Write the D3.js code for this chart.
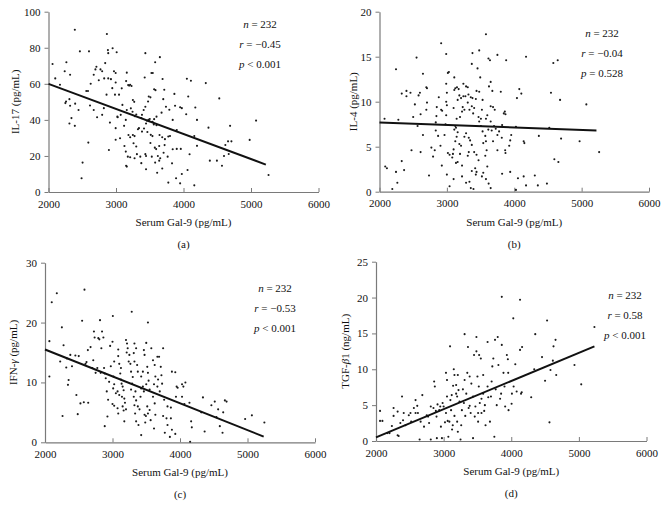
<!DOCTYPE html>
<html><head><meta charset="utf-8">
<script src="https://cdn.jsdelivr.net/npm/d3@7"></script>
<style>body{margin:0;background:#fff}text{font-family:"Liberation Serif","DejaVu Serif",serif;fill:#111}</style>
</head><body><svg id="c" width="667" height="505"></svg>
<script>
// ---- DATA ----
const xTicks = [2000, 3000, 4000, 5000, 6000];
const xLabel = "Serum Gal-9 (pg/mL)";
const panelTags = ["(a)", "(b)", "(c)", "(d)"];
const il17Ticks = [0, 20, 40, 60, 80, 100];
const il4Ticks = [0, 5, 10, 15, 20];
const ifnTicks = [0, 10, 20, 30];
const tgfTicks = [0, 5, 10, 15, 20, 25];
const il17Stats = ["232", "\u22120.45", "< 0.001"];
const il4Stats = ["232", "\u22120.04", "= 0.528"];
const ifnStats = ["232", "\u22120.53", "< 0.001"];
const tgfStats = ["232", "0.58", "< 0.001"];
const il17Fit = [[2000, 60], [5220, 15.2]];
const il4Fit = [[2000, 7.7], [5220, 6.8]];
const ifnFit = [[2000, 15.5], [5240, 0.95]];
const tgfFit = [[2000, 0.5], [5230, 13.2]];
const il17Points = [[2060,71],[2390,90],[2465,78],[2600,78],[2265,72],[2240,67],[2320,65],[2100,63],[2170,59.5],[2560,56],[2585,56],[2625,60],[2670,65],[2710,69.5],[2695,68],[2770,68],[2795,67],[2745,62],[2865,87.6],[2880,78.7],[2885,77],[2950,79.7],[3010,77.5],[2840,71.5],[2825,63],[2885,63],[2925,62.6],[2970,67],[2995,66],[2995,60.7],[2945,57.6],[2860,54],[2985,54],[3045,54],[2250,49.3],[2260,50.2],[2310,51.5],[2320,47.8],[2395,49],[2445,45.5],[2340,41],[2310,38],[2390,36.7],[2615,48],[2670,45.5],[2720,41.5],[2820,46.5],[2795,42.8],[2910,38.5],[2995,35.4],[3020,41.8],[3025,41.5],[2895,23.3],[3060,29.8],[2995,29],[2590,27.4],[2505,16.3],[2490,7.6],[3070,42.8],[3095,48.3],[3145,40],[3120,36.7],[3160,45.5],[3180,59.3],[3195,59],[3210,59.5],[3230,58.8],[3150,61.5],[3160,66.2],[3085,57.5],[3250,51],[3270,50],[3220,46.4],[3245,44.5],[3125,25.5],[3145,22.4],[3175,19.6],[3210,19.3],[3160,14.1],[3150,14.6],[3185,31.6],[3210,30.4],[3250,31.6],[3275,31],[3260,27],[3300,25.2],[3310,21],[3275,18.7],[3360,19.6],[3375,16],[3340,35.4],[3325,34.8],[3375,41],[3385,42.8],[3410,45.5],[3435,47.3],[3475,50.2],[3485,53],[3510,52.5],[3425,63.5],[3435,77],[3525,66],[3545,66],[3565,57],[3585,56.5],[3580,72],[3650,74.8],[3690,62.7],[3715,56.7],[3700,51.5],[3740,47.3],[3675,44],[3600,41.8],[3565,40.4],[3540,39],[3490,39.3],[3445,38],[3415,35.2],[3385,33.5],[3465,33.3],[3515,31.7],[3540,31],[3645,31.6],[3685,30.4],[3725,29.3],[3775,30.8],[3575,24.6],[3595,23.8],[3640,25.5],[3720,26],[3510,27.2],[3435,21],[3445,20],[3530,19.6],[3620,20],[3655,18.7],[3705,21.8],[3765,19.6],[3640,17.4],[3580,16.3],[3445,12.6],[3610,10.7],[3685,13],[3775,5.2],[3480,40],[3500,40.5],[3460,39.5],[3280,42],[3300,43],[3560,37.5],[3600,37],[4050,62.8],[4110,61.7],[4330,60.4],[3865,54.4],[4070,53],[4530,51.9],[3790,45.6],[3875,47.8],[3950,47],[3975,46.5],[4175,46.9],[4040,43.1],[4200,40],[3840,40],[3900,34.4],[4370,35.7],[4690,36.7],[5075,39.6],[4160,31.1],[4200,25.6],[3800,31.1],[3840,23.7],[3900,23.9],[3960,23.9],[4090,20.9],[3830,15.9],[3975,10],[3890,7.6],[3950,4.8],[4060,12.2],[4160,3.7],[4390,17.4],[4495,17.4],[4570,14.6],[4600,20],[4670,21.1],[4660,28.1],[4710,28.1],[4620,26.1],[4980,28.9],[5260,9.4]];
const il4Points = [[2075,8.1],[2110,2.6],[2085,2.8],[2190,0.3],[2245,2.2],[2265,1],[2245,13.6],[2280,8],[2330,3.4],[2365,2.4],[2330,10.9],[2400,11.2],[2400,10.6],[2460,11],[2500,8.3],[2550,14.9],[2475,4.6],[2525,9.7],[2565,7.3],[2610,8.6],[2580,10.7],[2600,11],[2645,13.1],[2610,4.4],[2695,11.6],[2705,11.5],[2705,9.9],[2695,9.1],[2645,6.3],[2735,1.8],[2770,4.9],[2795,3.9],[2820,4.6],[2835,7.7],[2835,6.8],[2845,8.4],[2850,9.4],[2880,10.5],[2915,9.1],[2930,9],[2870,6.2],[2905,5.1],[2925,2.9],[2915,16.5],[2990,15.3],[3015,13.2],[3030,13.3],[2990,12],[3000,11],[2990,10],[3000,9.6],[2990,8.5],[2980,7.5],[2965,6.3],[3015,4.3],[3040,4.1],[3080,3.8],[3000,1.9],[3040,0.6],[3090,4.2],[3100,4.7],[3110,6.9],[3125,7.3],[3100,9.3],[3110,11.3],[3125,11.5],[3150,11.6],[3175,11.4],[3185,10.7],[3160,10.2],[3210,10.4],[3245,10.6],[3235,9.4],[3260,9.1],[3225,8.9],[3195,8.3],[3145,8.1],[3135,7.1],[3160,6.6],[3145,6.1],[3125,5.6],[3185,5.3],[3210,5.1],[3260,6.1],[3285,6.5],[3325,6],[3345,5.7],[3370,5.2],[3325,4.4],[3310,4],[3195,4.2],[3225,2.9],[3160,3.3],[3135,3.2],[3100,1.4],[3225,1.7],[3285,1],[3335,1.1],[3355,0.4],[3395,0.3],[3370,2.3],[3420,2.6],[3440,2.2],[3430,1.9],[3470,3.5],[3405,4.4],[3440,4.1],[3110,12.7],[3245,12],[3285,11.7],[3310,11.6],[3320,10.8],[3275,10.6],[3355,10.5],[3380,10.4],[3310,9.9],[3335,9.1],[3370,9.5],[3390,8.7],[3405,9.3],[3430,10.3],[3370,14.2],[3380,15.4],[3480,15.7],[3455,13.7],[3495,12.7],[3440,11.2],[3480,11.1],[3530,10.2],[3520,9.1],[3470,8.3],[3505,8.1],[3480,7.8],[3505,7.3],[3530,6.7],[3570,6.2],[3540,5.4],[3580,5.6],[3590,4.6],[3570,4],[3600,2.8],[3540,2.1],[3520,1.7],[3580,1.4],[3620,0.9],[3650,0.4],[3617,14.8],[3580,17.5],[3640,14.6],[3625,11.7],[3650,12.2],[3675,11.2],[3650,9.5],[3685,9.4],[3710,9.1],[3600,8.5],[3580,8.1],[3650,7.8],[3700,7.3],[3725,7],[3665,6.8],[3615,6.9],[3750,6.3],[3685,5.6],[3750,4.6],[3815,6],[3775,6.7],[3820,7.4],[3845,8.7],[3860,8.9],[3870,8.6],[3800,11.1],[3750,15.2],[3880,14.6],[3820,2],[3870,4.3],[4175,15],[4580,14.3],[4645,14.6],[4075,11.4],[4105,10.9],[4040,10.4],[4545,11],[4680,10.2],[5070,9.7],[4025,7.2],[4520,7.1],[3955,6.3],[3940,5.7],[3925,5.1],[3865,4.6],[4140,5.6],[4150,5.4],[4365,6.2],[4695,5.9],[4970,5.6],[5260,4.4],[4595,3.6],[4655,3.3],[3940,2.2],[4055,1.5],[4140,1.7],[4305,1.8],[4175,0.7],[4350,0.7],[4485,0.9],[4025,0.2]];
const ifnPoints = [[2065,16.9],[2065,11],[2100,23.4],[2175,24.9],[2250,19.2],[2275,16.2],[2225,13.5],[2260,4.4],[2325,14],[2315,12.5],[2350,10.4],[2340,9.6],[2375,14.6],[2400,12.7],[2450,14.5],[2500,14.4],[2465,7.9],[2485,4.7],[2525,6.5],[2550,20.3],[2575,6.7],[2585,25.5],[2600,13.1],[2615,13.4],[2640,6.6],[2635,15.4],[2675,15.9],[2700,12.4],[2715,13.7],[2725,18.5],[2735,17.5],[2750,11.6],[2775,12.4],[2790,17.4],[2805,17.2],[2815,20.4],[2825,11.6],[2845,18.5],[2865,17.5],[2835,15.7],[2875,12.4],[2885,11.5],[2900,10.7],[2915,8.5],[2885,2.7],[2925,4.3],[2935,7.1],[2950,10.1],[2965,16.1],[2975,12.7],[3005,21.1],[3000,16.8],[3025,13.5],[3015,11],[3025,9.7],[3010,9],[3050,8.2],[3025,6.1],[3000,6.4],[3075,5.7],[3085,4.8],[3100,7.9],[3075,8.5],[3085,15.5],[3085,14.4],[3100,13.1],[3125,12.4],[3115,11.5],[3125,10.5],[3135,9.8],[3150,9.3],[3165,8.7],[3140,7.6],[3175,7.3],[3185,6.6],[3150,6],[3165,5.3],[3200,5.5],[3175,3.5],[3200,17.1],[3215,16.5],[3225,15.7],[3210,15],[3250,14.6],[3240,13.5],[3265,13.1],[3275,11.8],[3285,21.8],[3300,10.9],[3290,9.8],[3275,8.8],[3325,16.5],[3350,15.7],[3315,14.9],[3325,13.5],[3365,12.9],[3375,11.8],[3340,8.5],[3315,7.6],[3350,7],[3325,6.2],[3375,6],[3335,4.8],[3350,3.5],[3385,2.9],[3400,5.5],[3415,7.6],[3425,9],[3450,9.3],[3465,8.5],[3425,11],[3450,11.8],[3475,14.6],[3465,15.4],[3425,1.2],[3500,16.6],[3525,20],[3515,12.6],[3525,11.6],[3535,10.3],[3500,9.7],[3550,8.8],[3515,6],[3475,4.6],[3495,4.4],[3525,4.8],[3550,5.4],[3565,3.7],[3485,3.3],[3575,15.7],[3600,13.7],[3625,12.9],[3635,11],[3615,9.7],[3600,7.6],[3625,6.5],[3635,4.6],[3615,2.3],[3665,14.3],[3690,14.3],[3675,10.5],[3665,9.3],[3700,8.5],[3715,12.6],[3725,11.2],[3735,9.8],[3750,15.7],[3765,7.1],[3750,4.4],[3775,1.6],[3800,4],[3815,6],[3850,0.9],[3880,11.8],[3930,11.7],[3950,9.3],[3965,9.1],[4030,9.7],[4050,9.3],[4080,10],[3940,7.6],[4030,7.6],[4065,6.4],[4140,6.6],[3865,5.8],[3865,4],[3815,2.9],[3880,2.1],[3930,1.4],[4165,3.5],[4175,2.5],[4150,0.1],[4340,7.5],[4365,1.8],[4315,5],[4465,6.2],[4515,6.8],[4565,5.5],[4540,4.2],[4590,2.7],[4630,1.6],[4665,7],[4690,6.8],[4640,5],[4965,3.9],[5065,4.5],[5250,3.3]];
const tgfPoints = [[2060,4.2],[2060,2.8],[2095,2.8],[2170,1.1],[2200,1.1],[2235,2.1],[2260,4.6],[2260,3.5],[2320,4.1],[2320,0.8],[2335,0.7],[2360,2.5],[2385,6.2],[2410,3.9],[2400,2.9],[2435,2.2],[2485,3.6],[2510,3.9],[2520,2.7],[2560,4.6],[2585,5.7],[2585,3.9],[2610,4.9],[2620,3.9],[2645,0.2],[2660,2.7],[2685,6.4],[2710,2],[2750,3.6],[2770,3.4],[2785,2.5],[2810,0.2],[2810,4.8],[2850,4.6],[2860,8.3],[2870,7.6],[2885,4.2],[2895,3.4],[2900,0.4],[2910,5.1],[2935,4.3],[2950,4.8],[2960,2],[2975,0.4],[2985,5.3],[3000,4.8],[3020,2.6],[3035,9.5],[3050,6.2],[3050,8.5],[3035,3.9],[3060,2.8],[3070,0.6],[3085,2.7],[3095,13.2],[3100,5.7],[3120,6.4],[3110,4.3],[3135,2.2],[3125,1.6],[3150,10],[3140,7.7],[3160,9.2],[3160,3.5],[3185,7.8],[3185,6.6],[3200,2.7],[3200,6.2],[3210,9.2],[3210,1.3],[3220,7.1],[3235,5.5],[3250,0.2],[3260,2.2],[3270,4.3],[3285,7.2],[3300,5.3],[3310,14.9],[3310,8.5],[3320,3.5],[3335,6.6],[3350,9.5],[3360,13.1],[3370,4.6],[3385,4.9],[3385,9],[3400,3.9],[3410,8],[3435,0.4],[3450,12],[3435,6.2],[3460,3.4],[3470,4.8],[3485,14.5],[3485,12.5],[3500,9],[3510,3.9],[3510,2.7],[3520,7.6],[3525,12],[3535,5.3],[3550,11.5],[3560,5.9],[3560,3.9],[3585,6.6],[3585,9.2],[3600,4.2],[3610,5],[3620,2.2],[3650,13.8],[3650,7.6],[3660,6.1],[3685,2.7],[3700,6.2],[3710,8.3],[3720,10.4],[3735,11.5],[3750,0.6],[3760,14.1],[3770,7.2],[3785,5],[3800,14.5],[3810,10.6],[3835,5.9],[3860,20.1],[3860,13.4],[3850,6.6],[3885,9.5],[3900,7.6],[3910,4.8],[3935,12],[3950,11.4],[3960,4.3],[3955,9.5],[4030,17.1],[4130,19.7],[4130,12.7],[4160,13.1],[4060,10.7],[4035,7.6],[4010,6.6],[4080,6.9],[4145,6.6],[4155,6.8],[4005,5.2],[4295,6.1],[4340,10],[4455,11.7],[4530,16.8],[4355,14.9],[4625,13.2],[4655,14.1],[4615,11.2],[4580,9.9],[4665,9.2],[4500,8.4],[4935,10.6],[5035,7.9],[5230,15.9],[4565,2.6]];

// ---- LAYOUT ----
const panels = [
  {pts: il17Points, fit: il17Fit, ticks: il17Ticks, stats: il17Stats, ylab: ["IL-17 (pg/mL)"],
   x0: 48.5, x1: 318.5, yb: 192, yt: 11.7, statX: 260, statY: 28, ylabX: 15},
  {pts: il4Points, fit: il4Fit, ticks: il4Ticks, stats: il4Stats, ylab: ["IL-4 (pg/mL)"],
   x0: 379.5, x1: 649, yb: 191.7, yt: 11.7, statX: 602, statY: 37, ylabX: 353},
  {pts: ifnPoints, fit: ifnFit, ticks: ifnTicks, stats: ifnStats, ylab: ["IFN-", "γ", " (pg/mL)"],
   x0: 45, x1: 315, yb: 442.3, yt: 262.7, statX: 275, statY: 292, ylabX: 13},
  {pts: tgfPoints, fit: tgfFit, ticks: tgfTicks, stats: tgfStats, ylab: ["TGF-", "β", "1 (ng/mL)"],
   x0: 376, x1: 646.5, yb: 441, yt: 261.7, statX: 625, statY: 299, ylabX: 345}
];

const svg = d3.select("#c");
const axisCol = "#7a7a7a";
panels.forEach((p, i) => {
  const x = d3.scaleLinear().domain([2000, 6000]).range([p.x0, p.x1]);
  const y = d3.scaleLinear().domain([0, d3.max(p.ticks)]).range([p.yb, p.yt]);
  const g = svg.append("g");

  const xa = g.append("g").attr("transform", `translate(0,${p.yb})`)
    .call(d3.axisBottom(x).tickValues(xTicks).tickFormat(d3.format("d")).tickSizeInner(-4).tickSizeOuter(0).tickPadding(8));
  const ya = g.append("g").attr("transform", `translate(${p.x0},0)`)
    .call(d3.axisLeft(y).tickValues(p.ticks).tickSizeInner(4).tickSizeOuter(0).tickPadding(4));
  [xa, ya].forEach(a => {
    a.select(".domain").attr("stroke", axisCol).attr("stroke-width", 1.2);
    a.selectAll(".tick line").attr("stroke", axisCol).attr("stroke-width", 1);
    a.selectAll("text").attr("font-size", 11).attr("font-family", "Liberation Serif, serif").attr("fill", "#111");
  });

  g.append("g").selectAll("circle").data(p.pts).join("circle")
    .attr("cx", d => x(d[0])).attr("cy", d => y(d[1])).attr("r", 1.05).attr("fill", "#1a1a1a");

  g.append("line").attr("x1", x(p.fit[0][0])).attr("y1", y(p.fit[0][1]))
    .attr("x2", x(p.fit[1][0])).attr("y2", y(p.fit[1][1]))
    .attr("stroke", "#111").attr("stroke-width", 2);

  // stats
  const names = ["n", "r", "p"];
  p.stats.forEach((s, k) => {
    const t = g.append("text").attr("x", p.statX).attr("y", p.statY + k * 20)
      .attr("text-anchor", "middle").attr("font-size", 11);
    t.append("tspan").attr("font-style", "italic").text(names[k]);
    t.append("tspan").text(k === 2 ? " " + s : " = " + s);
  });

  // y label
  const cy = (p.yb + p.yt) / 2;
  const yl = g.append("text").attr("transform", `translate(${p.ylabX},${cy}) rotate(-90)`)
    .attr("text-anchor", "middle").attr("dy", "0.35em").attr("font-size", 11);
  p.ylab.forEach((s, k) => yl.append("tspan").attr("font-style", k === 1 ? "italic" : null).text(s));

  // x label + tag
  const cx = (p.x0 + p.x1) / 2;
  g.append("text").attr("x", cx).attr("y", p.yb + 34).attr("text-anchor", "middle").attr("font-size", 11).text(xLabel);
  g.append("text").attr("x", cx).attr("y", p.yb + 56).attr("text-anchor", "middle").attr("font-size", 11).text(panelTags[i]);
});
</script></body></html>
